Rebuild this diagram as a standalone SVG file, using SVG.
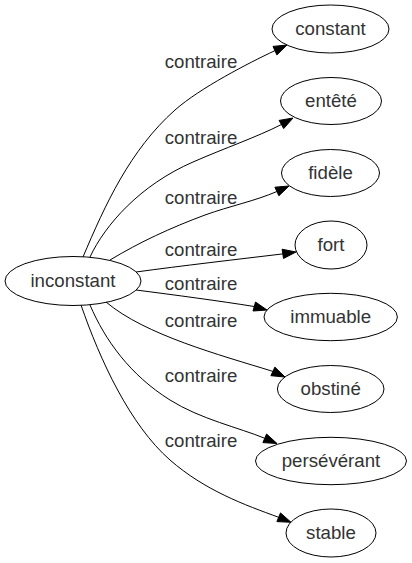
<svg xmlns="http://www.w3.org/2000/svg" width="412" height="563" viewBox="0 0 412 563">
<style>
.n ellipse{fill:none;stroke:#000;stroke-width:1}
text{font-family:"Liberation Sans",Arial,sans-serif;font-size:18.67px;fill:#333;text-anchor:middle}
.e path{fill:none;stroke:#000;stroke-width:1}
.e polygon{fill:#000;stroke:#000;stroke-width:1}
</style>
<rect width="412" height="563" fill="#fff"/>
<g id="edges" class="e">
<path d="M83,257 C105,205 130,150 175,110 C200,88 248,63.3 275,50.6"/>
<polygon points="287,45 276.9,54.9 273,46.4"/>
<text x="201" y="68">contraire</text>
<path d="M90,257 C105,225 140,185 193,162 C225,148 257,137 281.4,124.5"/>
<polygon points="293,118 283.7,128.6 279.1,120.4"/>
<text x="201" y="144">contraire</text>
<path d="M110,260 C140,242 170,228 205,215 C230,206 255,201 276.9,191.5"/>
<polygon points="289,186 278.9,195.8 274.9,187.2"/>
<text x="201" y="204">contraire</text>
<path d="M136,272 C180,266 240,259 282.8,253.9"/>
<polygon points="296,252 283.5,258.5 282.1,249.2"/>
<text x="201" y="256">contraire</text>
<path d="M136,290 C175,295 220,301 254.2,306.5"/>
<polygon points="267,310 253,311 255.5,302"/>
<text x="201" y="290">contraire</text>
<path d="M106,302 C145,335 220,355 272.9,371.4"/>
<polygon points="285,377 270.9,375.7 274.9,367.1"/>
<text x="201" y="327">contraire</text>
<path d="M90,305 C105,340 130,375 170,400 C200,419 240,428 264.8,438.3"/>
<polygon points="277,443.5 262.9,442.6 266.6,434"/>
<text x="201" y="382">contraire</text>
<path d="M81,305 C100,360 130,425 170,460 C205,490.6 245,505 278.7,517.3"/>
<polygon points="291,522.3 276.9,521.6 280.5,512.9"/>
<text x="201" y="447">contraire</text>
</g>
<g id="inconstant" class="n"><ellipse cx="73" cy="281" rx="68" ry="24.5"/><text x="73" y="286.7">inconstant</text></g>
<g id="constant" class="n"><ellipse cx="330.5" cy="29" rx="58.5" ry="24"/><text x="330.5" y="34.5">constant</text></g>
<g id="entete" class="n"><ellipse cx="331" cy="101" rx="50.5" ry="23.5"/><text x="331" y="106.5">entêté</text></g>
<g id="fidele" class="n"><ellipse cx="330.5" cy="173" rx="49" ry="23.5"/><text x="330.5" y="178.5">fidèle</text></g>
<g id="fort" class="n"><ellipse cx="331" cy="245" rx="36" ry="24"/><text x="331" y="250.5">fort</text></g>
<g id="immuable" class="n"><ellipse cx="330.7" cy="317" rx="66.7" ry="23.7"/><text x="330.7" y="322.5">immuable</text></g>
<g id="obstine" class="n"><ellipse cx="330.7" cy="389" rx="53.3" ry="23.5"/><text x="330.7" y="394.5">obstiné</text></g>
<g id="perseverant" class="n"><ellipse cx="331" cy="461" rx="75.5" ry="23.7"/><text x="331" y="466.5">persévérant</text></g>
<g id="stable" class="n"><ellipse cx="331" cy="533" rx="45" ry="24"/><text x="331" y="538.5">stable</text></g>
</svg>
